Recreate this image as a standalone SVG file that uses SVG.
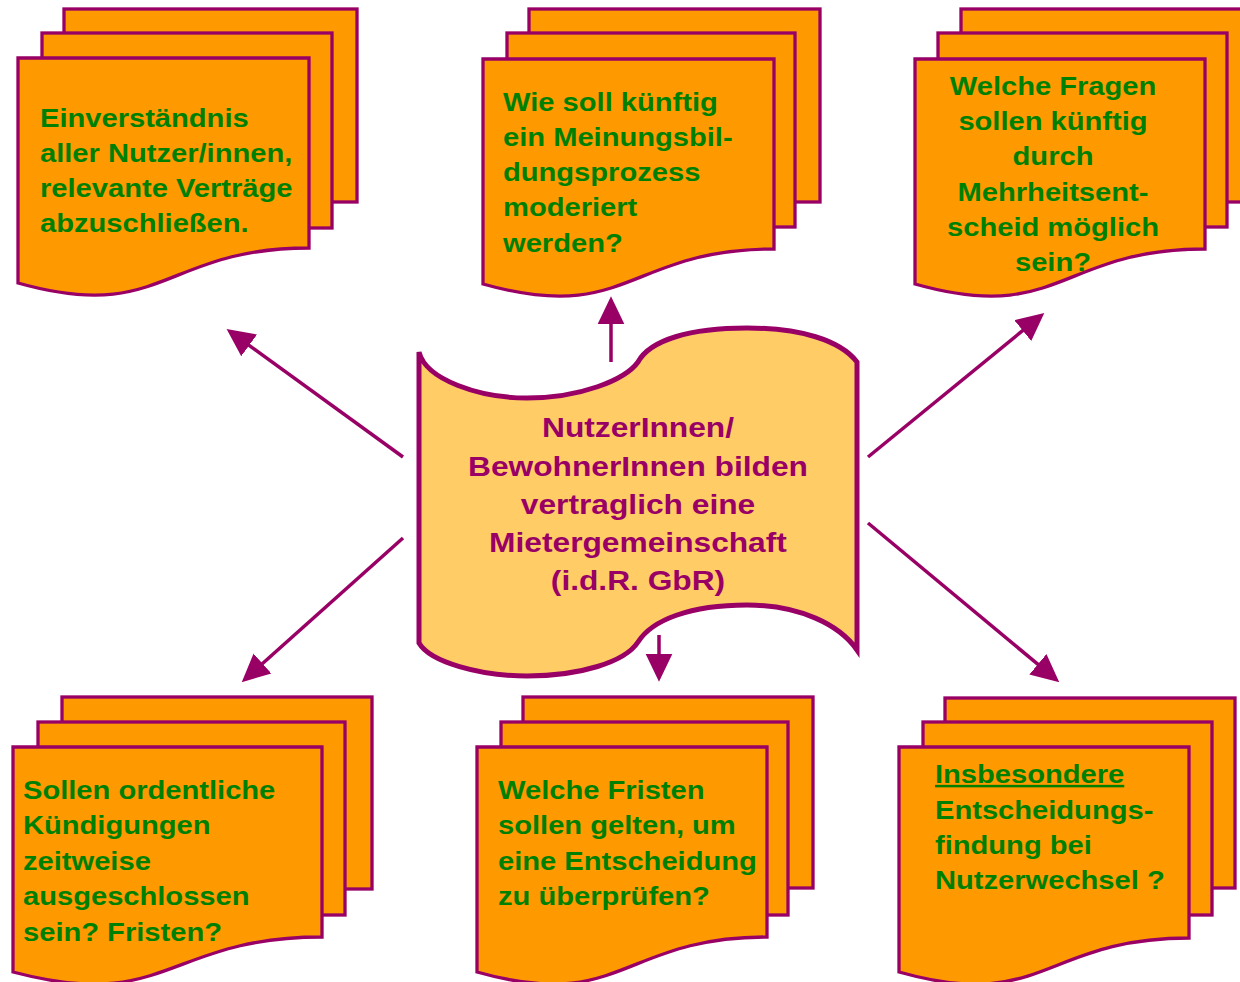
<svg xmlns="http://www.w3.org/2000/svg" width="1240" height="982" viewBox="0 0 1240 982">
<style>
.sheet{fill:#FF9900;stroke:#990066;stroke-width:3.3;stroke-linejoin:miter}
.gt{font-family:"Liberation Sans",Arial,sans-serif;font-weight:bold;font-size:25px;fill:#008000}
.ct{font-family:"Liberation Sans",Arial,sans-serif;font-weight:bold;font-size:27px;fill:#990066;text-anchor:middle}
.conn{stroke:#990066;stroke-width:3.5;fill:none;marker-end:url(#ah)}
</style>
<defs>
<marker id="ah" markerUnits="userSpaceOnUse" markerWidth="30" markerHeight="30" viewBox="-2 -13 28 26" refX="0" refY="0" orient="auto">
<path d="M-2,-12.5 L24,0 L-2,12.5 Z" fill="#990066"/>
</marker>
</defs>
<rect width="1240" height="982" fill="#FFFFFF"/>

<g id="connectors">
<line class="conn" x1="611" y1="362" x2="611" y2="322"/>
<line class="conn" x1="659" y1="635" x2="659" y2="656"/>
<line class="conn" x1="403" y1="457" x2="247.4" y2="344.1"/>
<line class="conn" x1="403" y1="538" x2="260.9" y2="665"/>
<line class="conn" x1="868" y1="457" x2="1024.4" y2="329.2"/>
<line class="conn" x1="868" y1="523" x2="1039.5" y2="665.7"/>
</g>

<g id="center">
<path d="M419,352 C426,380 480,398 527,398 C580,398 625,380 638,362 C650,340 690,328 747,328 C800,328 840,340 857,362 L857,650 C840,625 800,605 747,605 C690,605 652,620 638,642 C625,662 580,676 527,676 C480,676 430,662 419,643 Z" fill="#FFCC66" stroke="#990066" stroke-width="5" stroke-linejoin="miter"/>
<g transform="translate(638,0) scale(1.175,1)">
<text class="ct"><tspan x="0" y="437">NutzerInnen/</tspan><tspan x="0" y="476">BewohnerInnen bilden</tspan><tspan x="0" y="514">vertraglich eine</tspan><tspan x="0" y="552">Mietergemeinschaft</tspan><tspan x="0" y="590">(i.d.R. GbR)</tspan></text>
</g>
</g>

<g id="node-top-left">
<rect class="sheet" x="64" y="9" width="293" height="193"/>
<rect class="sheet" x="42" y="33" width="290" height="195"/>
<path class="sheet" d="M18,58 H309 V248 C163.5,248 163.5,324 18,283 Z"/>
<g transform="translate(40,0) scale(1.165,1)">
<text class="gt"><tspan x="0" y="127">Einverständnis</tspan><tspan x="0" y="162">aller Nutzer/innen,</tspan><tspan x="0" y="197">relevante Verträge</tspan><tspan x="0" y="232">abzuschließen.</tspan></text>
</g>
</g>

<g id="node-top-middle">
<rect class="sheet" x="529" y="9" width="291" height="193"/>
<rect class="sheet" x="507" y="33" width="288" height="194"/>
<path class="sheet" d="M483,59 H774 V249 C628.5,249 628.5,325 483,284 Z"/>
<g transform="translate(503,0) scale(1.165,1)">
<text class="gt"><tspan x="0" y="111">Wie soll künftig</tspan><tspan x="0" y="146">ein Meinungsbil-</tspan><tspan x="0" y="181">dungsprozess</tspan><tspan x="0" y="216">moderiert</tspan><tspan x="0" y="252">werden?</tspan></text>
</g>
</g>

<g id="node-top-right">
<rect class="sheet" x="961" y="9" width="293" height="193"/>
<rect class="sheet" x="938" y="33" width="289" height="194"/>
<path class="sheet" d="M915,59 H1205 V249 C1060,249 1060,325 915,284 Z"/>
<g transform="translate(1053,0) scale(1.165,1)">
<text class="gt" text-anchor="middle"><tspan x="0" y="95">Welche Fragen</tspan><tspan x="0" y="130">sollen künftig</tspan><tspan x="0" y="165">durch</tspan><tspan x="0" y="201">Mehrheitsent-</tspan><tspan x="0" y="236">scheid möglich</tspan><tspan x="0" y="271">sein?</tspan></text>
</g>
</g>

<g id="node-bottom-left">
<rect class="sheet" x="62" y="697" width="310" height="192"/>
<rect class="sheet" x="38" y="722" width="307" height="193"/>
<path class="sheet" d="M13,747 H322 V937 C167.5,937 167.5,1013 13,972 Z"/>
<g transform="translate(23,0) scale(1.165,1)">
<text class="gt"><tspan x="0" y="799">Sollen ordentliche</tspan><tspan x="0" y="834">Kündigungen</tspan><tspan x="0" y="870">zeitweise</tspan><tspan x="0" y="905">ausgeschlossen</tspan><tspan x="0" y="941">sein? Fristen?</tspan></text>
</g>
</g>

<g id="node-bottom-middle">
<rect class="sheet" x="523" y="697" width="290" height="191"/>
<rect class="sheet" x="501" y="722" width="287" height="193"/>
<path class="sheet" d="M477,747 H767 V937 C622,937 622,1013 477,972 Z"/>
<g transform="translate(498,0) scale(1.165,1)">
<text class="gt"><tspan x="0" y="799">Welche Fristen</tspan><tspan x="0" y="834">sollen gelten, um</tspan><tspan x="0" y="870">eine Entscheidung</tspan><tspan x="0" y="905">zu überprüfen?</tspan></text>
</g>
</g>

<g id="node-bottom-right">
<rect class="sheet" x="945" y="698" width="290" height="190"/>
<rect class="sheet" x="923" y="722" width="289" height="193"/>
<path class="sheet" d="M899,747 H1189 V938 C1044,938 1044,1013 899,972 Z"/>
<g transform="translate(935,0) scale(1.165,1)">
<text class="gt"><tspan x="0" y="783" text-decoration="underline">Insbesondere</tspan><tspan x="0" y="819">Entscheidungs-</tspan><tspan x="0" y="854">findung bei</tspan><tspan x="0" y="889">Nutzerwechsel ?</tspan></text>
</g>
</g>
</svg>
